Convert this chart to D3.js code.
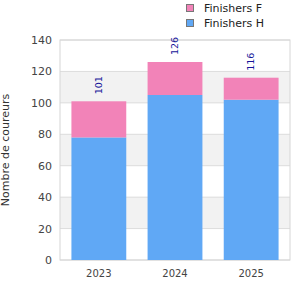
<!DOCTYPE html>
<html><head><meta charset="utf-8">
<script src="https://cdn.jsdelivr.net/npm/d3@7"></script>
<style>body{margin:0;background:#fff}svg{display:block;font-family:"DejaVu Sans",sans-serif}</style>
</head><body><svg id="c" width="300" height="300"></svg>
<script>
const categories = ["2023","2024","2025"];
const finishersH = [78, 105, 102];
const finishersF = [23, 21, 14];
const totals = [101, 126, 116];
const yTicks = [0,20,40,60,80,100,120,140];
const seriesNames = ["Finishers F","Finishers H"];
const colors = {"Finishers H":"#60a8f5","Finishers F":"#f283b8"};

const svg = d3.select("#c");
const L=60,R=290,T=40,B=260;
const x = d3.scaleBand().domain(categories).range([L,R]).paddingInner(0.28).paddingOuter(0.15);
const y = d3.scaleLinear().domain([0,140]).range([B,T]);

for(let i=0;i<yTicks.length-1;i++){
  if(i%2===0) continue;
  svg.append("rect").attr("x",L).attr("width",R-L).attr("y",y(yTicks[i+1])).attr("height",y(yTicks[i])-y(yTicks[i+1])).attr("fill","#f2f2f2");
}
svg.selectAll("line.g").data(yTicks).join("line").attr("x1",L).attr("x2",R).attr("y1",d=>y(d)).attr("y2",d=>y(d)).attr("stroke","#dcdcdc");
svg.append("rect").attr("x",L).attr("y",T).attr("width",R-L).attr("height",B-T).attr("fill","none").attr("stroke","#d6d6d6");

const data = categories.map((c,i)=>({c,h:finishersH[i],f:finishersF[i],t:totals[i]}));
svg.selectAll("rect.h").data(data).join("rect").attr("x",d=>x(d.c)).attr("width",x.bandwidth()).attr("y",d=>y(d.h)).attr("height",d=>y(0)-y(d.h)).attr("fill",colors["Finishers H"]);
svg.selectAll("rect.f").data(data).join("rect").attr("x",d=>x(d.c)).attr("width",x.bandwidth()).attr("y",d=>y(d.h+d.f)).attr("height",d=>y(d.h)-y(d.h+d.f)).attr("fill",colors["Finishers F"]);

svg.selectAll("text.v").data(data).join("text")
  .attr("transform",d=>`translate(${x(d.c)+x.bandwidth()/2+3},${y(d.t)-7}) rotate(-90)`)
  .attr("font-size",9.5).attr("fill","#14149a").text(d=>d.t);

svg.selectAll("text.yt").data(yTicks).join("text").attr("x",52).attr("y",d=>y(d)+4).attr("text-anchor","end").attr("font-size",11).attr("fill","#444").text(d=>d);
svg.selectAll("text.xt").data(categories).join("text").attr("x",d=>x(d)+x.bandwidth()/2).attr("y",277).attr("text-anchor","middle").attr("font-size",10).attr("fill","#444").text(d=>d);
svg.append("text").attr("transform","translate(9,150) rotate(-90)").attr("text-anchor","middle").attr("font-size",11).attr("fill","#333").text("Nombre de coureurs");

const lg = svg.selectAll("g.lg").data(seriesNames).join("g").attr("transform",(d,i)=>`translate(186,${4+i*15})`);
lg.append("rect").attr("x",0.5).attr("y",0.5).attr("width",7).attr("height",7).attr("fill",d=>colors[d]).attr("stroke","#777");
lg.append("text").attr("x",18).attr("y",8).attr("font-size",11).attr("fill","#222").text(d=>d);
</script></body></html>
